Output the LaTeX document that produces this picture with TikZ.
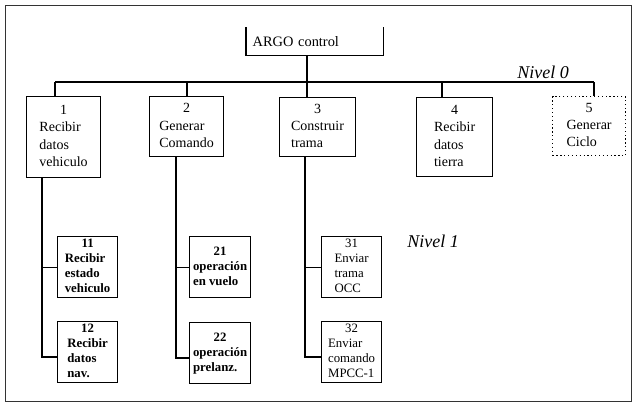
\documentclass[tikz,border=0pt]{standalone}
\usepackage{fontspec}
\setmainfont{Liberation Serif}
\usepackage{tikz}

\newcommand{\cajatxt}[2]{\begin{tabular}{@{}l@{}}\multicolumn{1}{@{}c@{}}{#1}\\#2\end{tabular}}

\begin{document}
\begin{tikzpicture}[x=0.75pt,y=0.75pt,yscale=-1,xscale=1,line width=0.9pt,
  caja0/.style={draw,anchor=north west,inner sep=0pt,font=\fontsize{10.5}{13}\selectfont},
  caja1/.style={draw,anchor=north west,inner sep=0pt,minimum width=45pt,minimum height=45.75pt,font=\bfseries\fontsize{9.6}{11.25}\selectfont},
  nivel/.style={font=\itshape\fontsize{13.5}{16}\selectfont,inner sep=0pt}]
\useasboundingbox (0,0) rectangle (634,404);

%Shape: Frame
\draw [line width=0.7pt,black!80] (5,5) rectangle (631,401);

%Shape: top box
\node [anchor=north west,inner xsep=4.5pt,inner ysep=0pt,text width=93pt,minimum height=20.25pt,align=left,font=\fontsize{10.8}{13}\selectfont] (argo) at (246,27) {ARGO control};
\draw (argo.north west) |- (argo.south east) -- (argo.north east);

%Shape: Nivel 0 boxes
\node [caja0,minimum width=55.5pt,minimum height=60.75pt] (b1) at (26,96) {\cajatxt{1}{Recibir\\datos\\vehiculo}};
\node [caja0,minimum width=55.5pt,minimum height=45pt] (b2) at (149,96) {\cajatxt{2}{Generar\\Comando}};
\node [caja0,minimum width=57pt,minimum height=44.25pt] (b3) at (279,97) {\cajatxt{3}{Construir\\trama}};
\node [caja0,minimum width=57pt,minimum height=59.25pt] (b4) at (416,97) {\cajatxt{4}{Recibir\\datos\\tierra}};
\node [caja0,dotted,minimum width=54.75pt,minimum height=44.25pt] (b5) at (552,96) {\cajatxt{5}{Generar\\Ciclo}};

%Shape: Nivel 1 boxes
\node [caja1] (b11) at (57,236) {\cajatxt{11}{Recibir\\estado\\vehiculo}};
\node [caja1] (b12) at (57,321) {\cajatxt{12}{Recibir\\datos\\nav.}};
\node [caja1,minimum width=45.75pt] (b21) at (189,236) {\cajatxt{21}{operación\\en vuelo}};
\node [caja1,minimum width=45.75pt] (b22) at (189,322) {\cajatxt{22}{operación\\prelanz.}};
\node [caja1,font=\fontsize{9.6}{11.25}\selectfont] (b31) at (321,236) {\cajatxt{31}{Enviar\\trama\\OCC}};
\node [caja1,font=\fontsize{9.6}{11.25}\selectfont] (b32) at (321,321) {\cajatxt{32}{Enviar\\comando\\MPCC-1}};

% Text Node
\node [nivel] (n0) at (543,72) {Nivel 0};
% Text Node
\node [nivel] (n1) at (433,241) {Nivel 1};

%Straight Lines: bus
\coordinate (c0) at (307,82);
\draw (c0 |- argo.south) -- (c0);
\coordinate (bi) at (55,82);
\coordinate (bd) at (594,82);
\draw (bi) -- (bd);
\foreach \n/\x in {1/55,2/187,3/307,4/442,5/594}{
  \coordinate (d\n) at (\x,82);
  \draw (d\n) -- (d\n |- b\n.north);
}

%Straight Lines: Nivel 1
\foreach \n/\x/\y in {1/42/357,2/176/358,3/305/357}{
  \coordinate (s\n) at (\x,\y);
  \draw (s\n |- b\n.south) -- (s\n) -- (s\n -| b\n2.west);
  \draw (b\n1.west) -- (b\n1.west -| s\n);
}

\end{tikzpicture}
\end{document}
